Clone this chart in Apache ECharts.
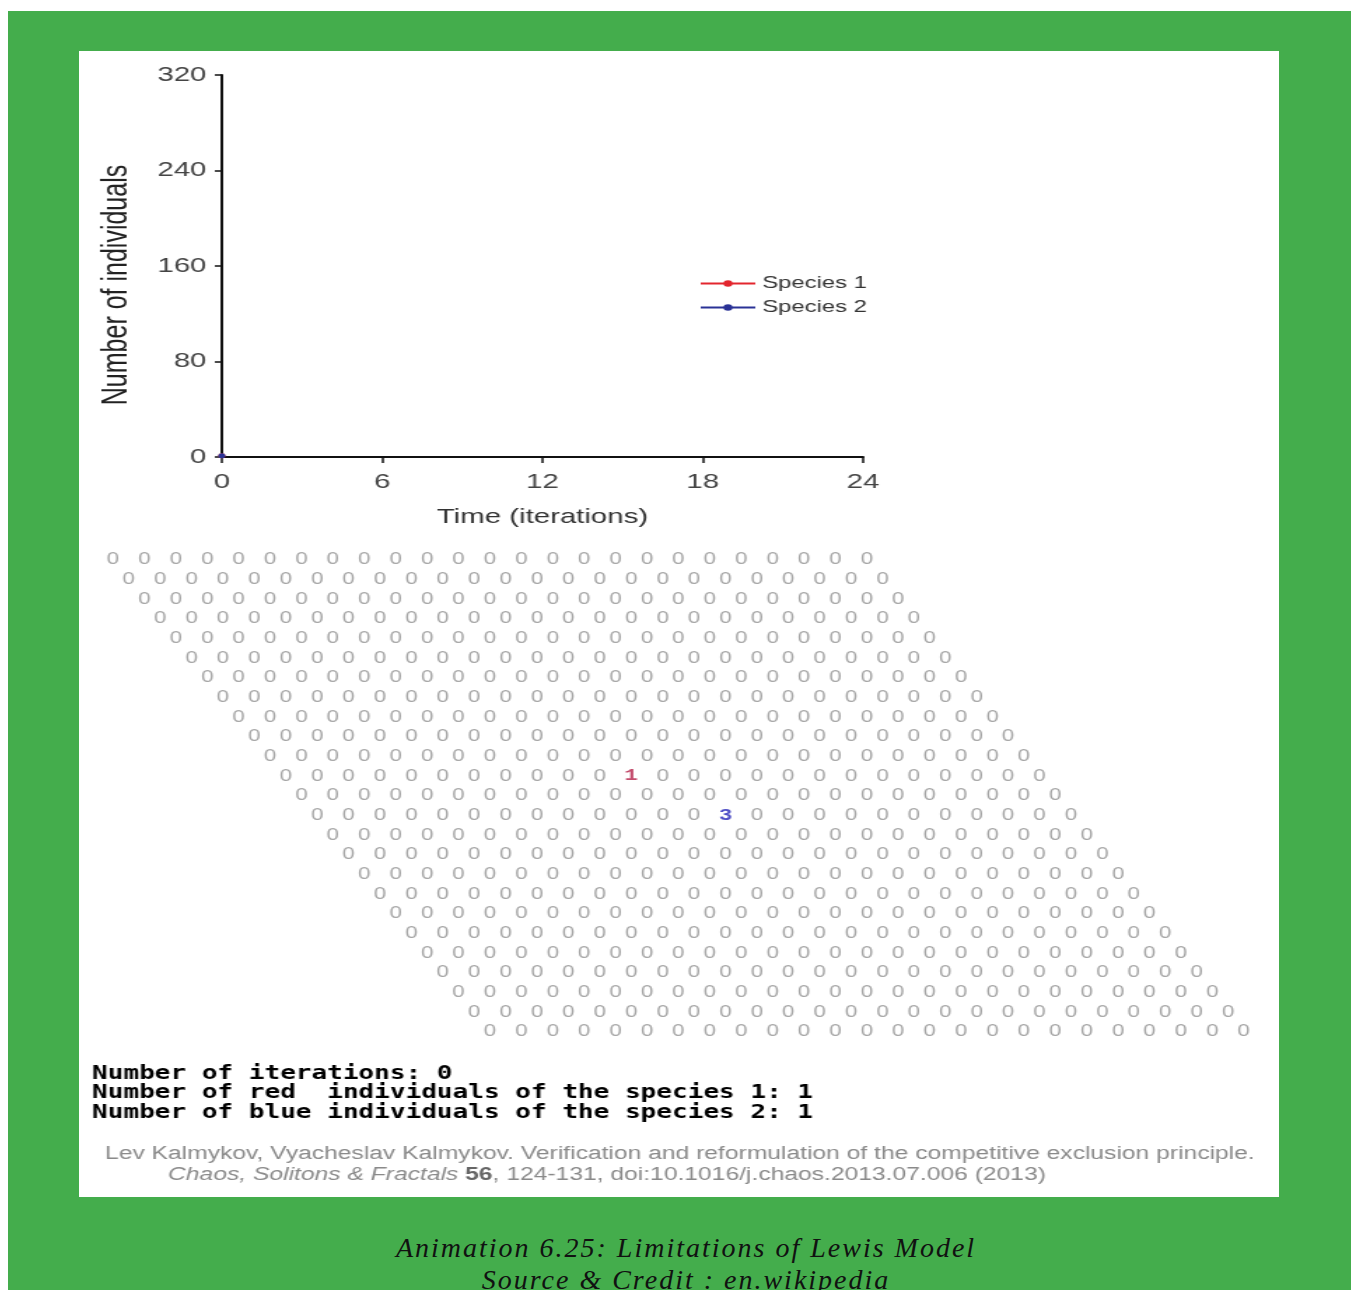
<!DOCTYPE html>
<html>
<head>
<meta charset="utf-8">
<script src="https://cdn.jsdelivr.net/npm/echarts@6/dist/echarts.min.js"></script>
<style>
  html, body { margin: 0; padding: 0; background: #fff; }
  #page { position: relative; width: 1351px; height: 1290px; overflow: hidden; }
  #frame { position: absolute; left: 8px; top: 11px; right: 0; bottom: 0; background: #44ad4c; }
  /* the source picture is stretched sideways, so the panel is drawn narrow and scaled */
  #main { position: absolute; left: 79px; top: 51px; width: 857px; height: 1146px;
          transform: scaleX(1.4002); transform-origin: 0 0; }
  .caption { position: absolute; left: 0; width: 1372px; text-align: center;
             font-family: 'Liberation Serif', serif; font-style: italic; font-size: 28px;
             letter-spacing: 2px; color: #111; }
</style>
</head>
<body>
<div id="page">
  <div id="frame"></div>
  <div id="main"></div>
  <div class="caption" style="top:1232px;">Animation 6.25: Limitations of Lewis Model</div>
  <div class="caption" style="top:1264px;">Source &amp; Credit : en.wikipedia</div>
</div>
<script>
// population curves (only the starting point is shown)
const timeSteps = [0]
const species1Counts = [1]
const species2Counts = [1]
const seriesNames = ['Species 1', 'Species 2']

// hexagonal lattice state, 25 x 25 sites
const latticeSize = 25
const emptyMark = '0'
// [row, col, mark]
const redCells = [[11, 11, '1']]
const blueCells = [[13, 13, '3']]

const statusLines = [
  'Number of iterations: 0',
  'Number of red  individuals of the species 1: 1',
  'Number of blue individuals of the species 2: 1'
]

function toSite(cell) {
  // shift each row by half a site to get the rhombic layout
  return [cell[1] + cell[0] / 2, cell[0], cell[2]]
}

const taken = {}
redCells.concat(blueCells).forEach((c) => { taken[c[0] + '_' + c[1]] = true })
const emptyCells = []
for (let r = 0; r < latticeSize; r++) {
  for (let c = 0; c < latticeSize; c++) {
    if (!taken[r + '_' + c]) emptyCells.push([r, c, emptyMark])
  }
}

const myChart = echarts.init(document.getElementById('main'))

const labelFont = 'Liberation Sans'
const options = {
  backgroundColor: '#fff',
  animation: false,
  legend: {
    orient: 'vertical',
    left: 443,
    top: 224,
    padding: 0,
    itemWidth: 39,
    itemHeight: 8,
    itemGap: 7,
    textStyle: { fontFamily: labelFont, fontSize: 17, color: '#333' },
    data: seriesNames
  },
  grid: [
    { left: 102, top: 24, width: 458, height: 382 },
    { left: 24.3, top: 509, width: 807.5, height: 472 }
  ],
  xAxis: [{
    type: 'value', gridIndex: 0, min: 0, max: 24, interval: 6,
    name: 'Time (iterations)', nameLocation: 'middle', nameGap: 50,
    nameTextStyle: { fontFamily: labelFont, fontSize: 21, color: '#333' },
    axisLine: { show: true, lineStyle: { color: '#111', width: 2 } },
    axisTick: { show: true, length: 6, lineStyle: { color: '#111', width: 1.5 } },
    axisLabel: { margin: 15, fontFamily: labelFont, fontSize: 21, color: '#444' },
    splitLine: { show: false }
  }, {
    type: 'value', gridIndex: 1, min: 0, max: 36, show: false
  }],
  yAxis: [{
    type: 'value', gridIndex: 0, min: 0, max: 320, interval: 80,
    name: 'Number of individuals', nameLocation: 'middle', nameGap: 62, nameRotate: 90,
    nameTextStyle: { fontFamily: labelFont, fontSize: 25, color: '#222', padding: [0, 38, 0, 0] },
    axisLine: { show: true, lineStyle: { color: '#111', width: 2 } },
    axisTick: { show: true, length: 5, lineStyle: { color: '#111', width: 1.5 } },
    axisLabel: { margin: 11, fontFamily: labelFont, fontSize: 21, color: '#444' },
    splitLine: { show: false }
  }, {
    type: 'value', gridIndex: 1, min: 0, max: 24, inverse: true, show: false
  }],
  series: [{
    name: seriesNames[0], type: 'line', xAxisIndex: 0, yAxisIndex: 0,
    data: timeSteps.map((t, i) => [t, species1Counts[i]]),
    symbol: 'circle', symbolSize: 5,
    itemStyle: { color: '#e3262e' }, lineStyle: { color: '#e3262e', width: 1.5 }
  }, {
    name: seriesNames[1], type: 'line', xAxisIndex: 0, yAxisIndex: 0,
    data: timeSteps.map((t, i) => [t, species2Counts[i]]),
    symbol: 'circle', symbolSize: 5,
    itemStyle: { color: '#2a3296' }, lineStyle: { color: '#2a3296', width: 1.5 }
  }, {
    name: 'empty', type: 'scatter', xAxisIndex: 1, yAxisIndex: 1,
    data: emptyCells.map(toSite), symbolSize: 0, silent: true,
    label: { show: true, position: 'inside', formatter: (p) => p.value[2],
      fontFamily: 'Liberation Sans', fontSize: 16, color: '#8e8e8e' }
  }, {
    name: 'red', type: 'scatter', xAxisIndex: 1, yAxisIndex: 1,
    data: redCells.map(toSite), symbolSize: 0, silent: true,
    label: { show: true, position: 'inside', formatter: (p) => p.value[2],
      fontFamily: 'Liberation Mono', fontWeight: 'bold', fontSize: 16, color: '#b5224a' }
  }, {
    name: 'blue', type: 'scatter', xAxisIndex: 1, yAxisIndex: 1,
    data: blueCells.map(toSite), symbolSize: 0, silent: true,
    label: { show: true, position: 'inside', formatter: (p) => p.value[2],
      fontFamily: 'Liberation Mono', fontWeight: 'bold', fontSize: 16, color: '#2626b8' }
  }],
  graphic: [{
    type: 'text', left: 9.3, top: 1013,
    style: {
      text: statusLines.join('\n'),
      font: 'bold 18.6px "DejaVu Sans Mono"',
      lineHeight: 19.5,
      fill: '#000'
    }
  }, {
    type: 'text', left: 18.6, top: 1094,
    style: {
      text: 'Lev Kalmykov, Vyacheslav Kalmykov. Verification and reformulation of the competitive exclusion principle.',
      font: '17.6px "Liberation Sans"',
      fill: '#8a8a8a'
    }
  }, {
    type: 'text', left: 63.6, top: 1115,
    style: {
      text: '{i|Chaos, Solitons & Fractals} {b|56}, 124-131, doi:10.1016/j.chaos.2013.07.006 (2013)',
      font: '17.6px "Liberation Sans"',
      fill: '#8a8a8a',
      rich: {
        i: { fontStyle: 'italic', fontFamily: 'Liberation Sans', fontSize: 17.6, fill: '#8a8a8a' },
        b: { fontWeight: 'bold', fontFamily: 'Liberation Sans', fontSize: 17.6, fill: '#666' }
      }
    }
  }]
}
myChart.setOption(options)
</script>
</body>
</html>
